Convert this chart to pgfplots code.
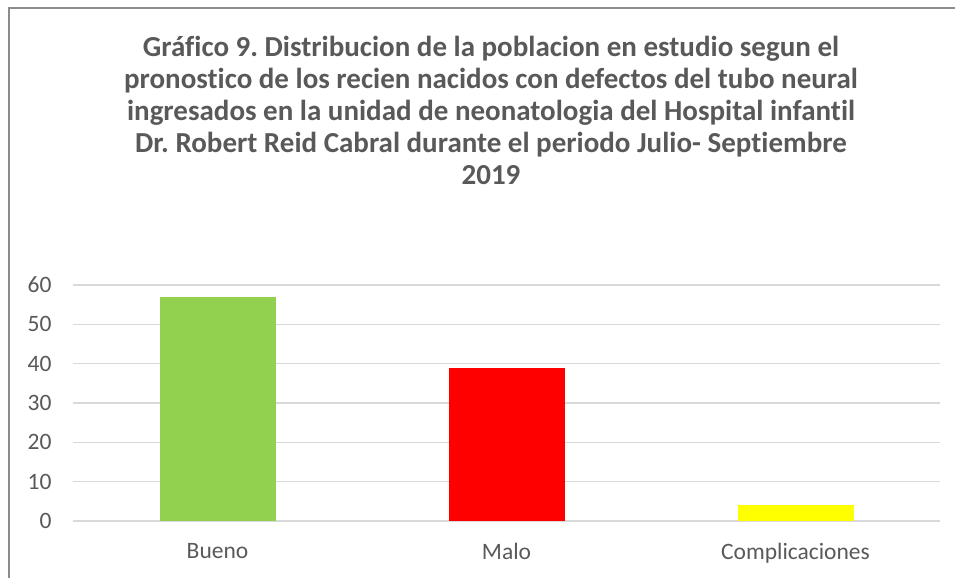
\documentclass[border=0pt]{standalone}
\usepackage{pgfplots}
\pgfplotsset{compat=1.18}
\usepackage{fontspec}
\setmainfont{Carlito}[Ligatures=NoCommon]
\frenchspacing
\definecolor{txt}{HTML}{595959}
\definecolor{gridc}{HTML}{D9D9D9}
\definecolor{brd}{HTML}{8C8C8C}
\definecolor{cgreen}{HTML}{92D050}
\definecolor{cred}{HTML}{FF0000}
\definecolor{cyellow}{HTML}{FFFF00}
\begin{document}
\begin{tikzpicture}[x=1pt,y=1pt]
\useasboundingbox (0,0) rectangle (955,578);
\draw[brd, line width=1.5pt] (9,0) -- (9,570) -- (955,570);
\begin{scope}[every node/.style={txt, font=\fontsize{29}{32}\selectfont\bfseries, anchor=base}]
\node at (491,521.5) {Gráfico 9. Distribucion de la poblacion en estudio segun el};
\node at (491,489.5) {pronostico de los recien nacidos con defectos del tubo neural};
\node at (491,457.5) {ingresados en la unidad de neonatologia del Hospital infantil};
\node at (491,425.5) {Dr. Robert Reid Cabral durante el periodo Julio- Septiembre};
\node at (491,393) {2019};
\end{scope}
\begin{axis}[
  at={(73pt,57pt)}, anchor=south west,
  scale only axis, width=867pt, height=236pt,
  xmin=-0.5, xmax=2.5, ymin=0, ymax=60,
  ytick={0,10,...,60},
  xtick={0,1,2},
  xticklabels={Bueno,Malo,Complicaciones},
  axis line style={draw=none},
  ymajorgrids, grid style={gridc, line width=1.2pt},
  major tick length=0pt,
  tick label style={txt, font=\fontsize{23.5}{28}\selectfont},
  /pgf/number format/assume math mode=true,
  yticklabel style={xshift=-18pt},
  xticklabel style={yshift=-19pt},
  ybar, bar width=116pt,
  clip=false,
]
\addplot[fill=cgreen, draw=none, bar shift=0pt] coordinates {(0,57)};
\addplot[fill=cred, draw=none, bar shift=0pt] coordinates {(1,39)};
\addplot[fill=cyellow, draw=none, bar shift=0pt] coordinates {(2,4)};
\end{axis}
\end{tikzpicture}
\end{document}
